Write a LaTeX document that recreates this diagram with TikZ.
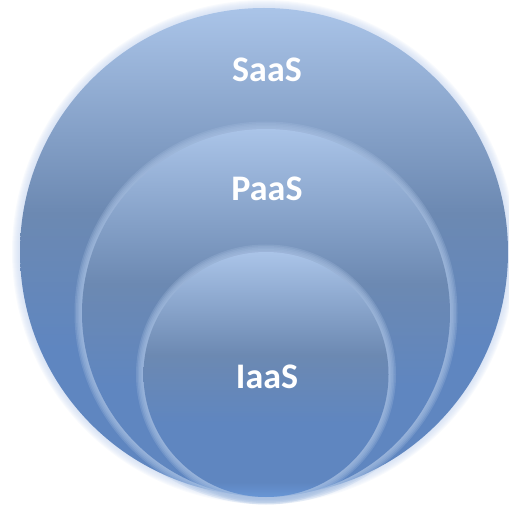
\documentclass[tikz,border=0pt]{standalone}
\usepackage{fontspec}
\setmainfont{Carlito}
\definecolor{cBot}{RGB}{104,150,214}
\definecolor{cLow}{RGB}{95,134,192}
\definecolor{cMid}{RGB}{108,137,178}
\definecolor{cTop}{RGB}{170,196,232}
\definecolor{glowc}{RGB}{200,215,240}
\definecolor{ringc}{RGB}{168,192,226}
\pgfdeclareverticalshading{discshade}{100bp}{color(0bp)=(cBot); color(25bp)=(cBot); color(28bp)=(cLow); color(40bp)=(cLow); color(54bp)=(cMid); color(75bp)=(cTop); color(100bp)=(cTop)}
\tikzset{
  disc/.style={shading=discshade},
  lbl/.style={text=white, font=\bfseries\fontsize{36}{40}\selectfont, inner sep=0pt}
}
\begin{document}
\begin{tikzpicture}[x=1pt,y=-1pt]
\useasboundingbox (0,0) rectangle (509,505);
% outer glow
\foreach \i in {1,...,8}{
  \fill[glowc, opacity=0.12] (264,252) circle ({244+\i});
}
\shade[disc] (264,252) circle (244);
% middle ring + disc
\foreach \i in {1,...,5}{
  \fill[ringc, opacity=0.25] (266,313) circle ({184+\i*1.5});
}
\shade[disc] (266,313) circle (184);
% inner ring + disc
\foreach \i in {1,...,5}{
  \fill[ringc, opacity=0.25] (266,374.5) circle ({122.5+\i*1.5});
}
\shade[disc] (266,374.5) circle (122.5);
% labels
\node[lbl] (saas) at (267,70) {SaaS};
\node[lbl] (paas) at (267,189) {PaaS};
\node[lbl] (iaas) at (267,377) {IaaS};
\end{tikzpicture}
\end{document}
